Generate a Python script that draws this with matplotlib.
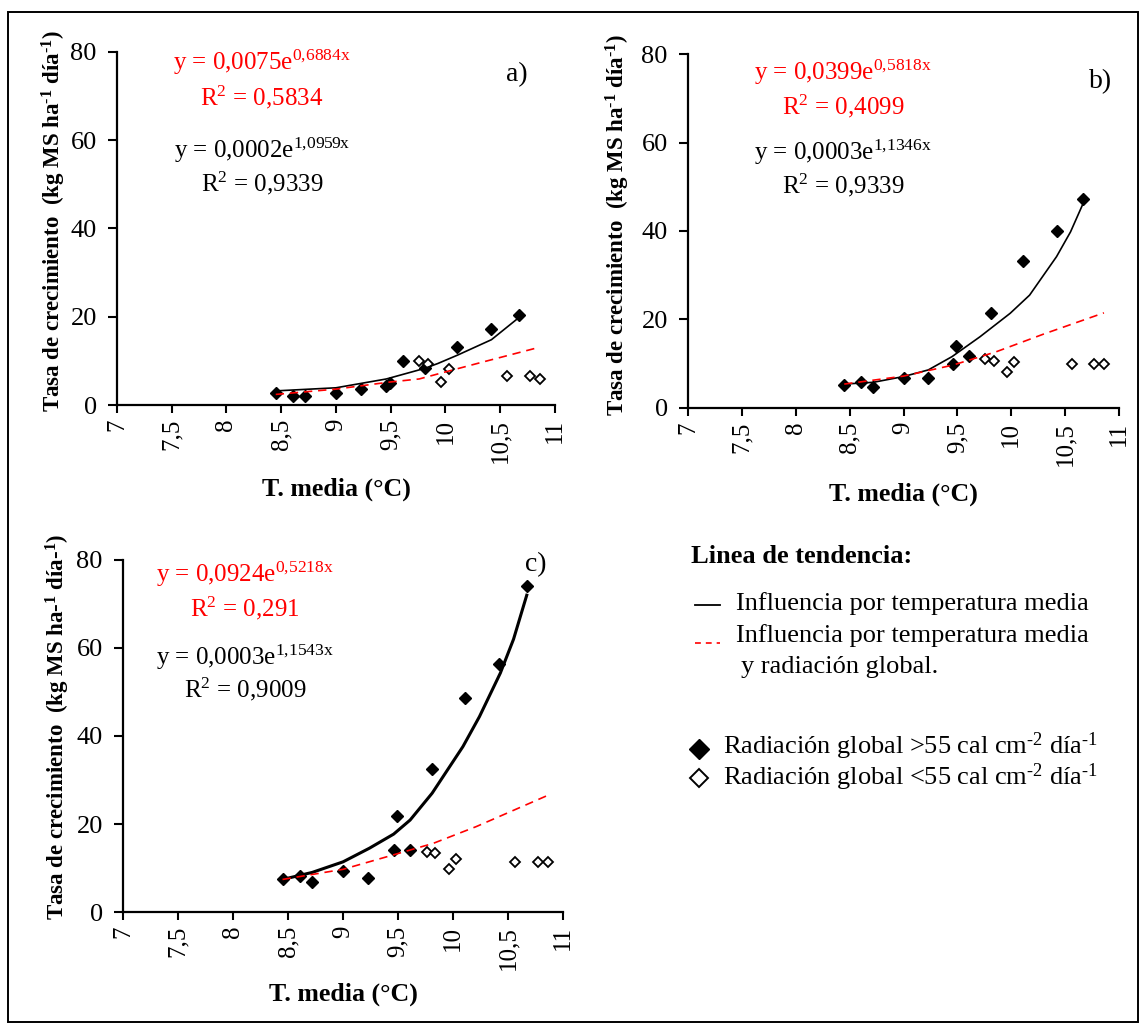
import matplotlib
matplotlib.use("Agg")
import matplotlib.pyplot as plt
from matplotlib.lines import Line2D
from matplotlib.patches import Rectangle

plt.rcParams['font.family'] = ['Liberation Serif', 'DejaVu Serif']
plt.rcParams['mathtext.fontset'] = 'custom'
plt.rcParams['mathtext.rm'] = 'Liberation Serif'
plt.rcParams['mathtext.it'] = 'Liberation Serif:italic'
plt.rcParams['mathtext.bf'] = 'Liberation Serif:bold'

# mean temperature of each period (same for the three panels)
x_high = [8.45, 8.61, 8.72, 9.00, 9.23, 9.46, 9.49, 9.61, 9.81, 10.11, 10.42, 10.67]
x_low = [9.76, 9.84, 9.96, 10.03, 10.56, 10.77, 10.86]

# growth rate, radiation > 55 (filled) and < 55 (empty)
a_high = [2.7, 2.0, 2.0, 2.8, 3.6, 4.2, 5.0, 10.0, 8.3, 13.1, 17.2, 20.4]
a_low = [10.0, 9.2, 5.3, 8.2, 6.6, 6.6, 5.8]
b_high = [5.2, 5.8, 4.8, 6.7, 6.7, 9.9, 14.0, 11.8, 21.5, 33.2, 40.0, 47.2]
b_low = [11.1, 10.6, 8.2, 10.5, 9.9, 9.9, 9.9]
c_high = [7.4, 8.2, 6.9, 9.3, 7.8, 14.2, 21.8, 14.2, 32.4, 48.7, 56.4, 74.0]
c_low = [13.6, 13.3, 9.8, 12.0, 11.3, 11.3, 11.3]

# trend lines
a_temp_x = [8.45, 9.0, 9.46, 9.81, 9.93, 10.11, 10.42, 10.67]
a_temp_y = [3.2, 3.9, 5.9, 8.3, 9.4, 11.3, 14.8, 19.8]
a_rad_x = [8.45, 9.0, 9.49, 9.76, 10.0, 10.35, 10.86]
a_rad_y = [2.4, 3.6, 5.2, 5.9, 7.5, 9.8, 13.1]
b_temp_x = [8.45, 8.72, 9.0, 9.23, 9.45, 9.71, 9.99, 10.17, 10.42, 10.55, 10.67]
b_temp_y = [5.4, 5.8, 7.1, 8.6, 11.6, 16.1, 21.4, 25.5, 34.2, 39.8, 46.4]
b_rad_x = [8.45, 9.0, 9.46, 9.86, 10.30, 10.86]
b_rad_y = [5.4, 7.2, 9.7, 12.7, 16.7, 21.5]
c_temp_x = [8.45, 8.72, 9.0, 9.24, 9.46, 9.61, 9.81, 10.09, 10.24, 10.43, 10.55, 10.67]
c_temp_y = [7.4, 9.0, 11.4, 14.5, 17.7, 20.9, 27.0, 37.6, 44.4, 54.3, 62.0, 72.0]
c_rad_x = [8.45, 9.0, 9.46, 9.82, 10.21, 10.86]
c_rad_y = [7.4, 9.7, 13.0, 15.6, 19.4, 26.5]

x_ticks = [7, 7.5, 8, 8.5, 9, 9.5, 10, 10.5, 11]
x_ticklabels = ['7', '7,5', '8', '8,5', '9', '9,5', '10', '10,5', '11']
y_ticks = [0, 20, 40, 60, 80]

HY = '\u2010'  # plain hyphen inside the superscripts

eq_red = {'a': (r'y = 0,0075e$^{\mathregular{0{,}6884x}}$', r'R$^{\mathregular{2}}$ = 0,5834'),
          'b': (r'y = 0,0399e$^{\mathregular{0{,}5818x}}$', r'R$^{\mathregular{2}}$ = 0,4099'),
          'c': (r'y = 0,0924e$^{\mathregular{0{,}5218x}}$', r'R$^{\mathregular{2}}$ = 0,291')}
eq_black = {'a': (r'y = 0,0002e$^{\mathregular{1{,}0959x}}$', r'R$^{\mathregular{2}}$ = 0,9339'),
            'b': (r'y = 0,0003e$^{\mathregular{1{,}1346x}}$', r'R$^{\mathregular{2}}$ = 0,9339'),
            'c': (r'y = 0,0003e$^{\mathregular{1{,}1543x}}$', r'R$^{\mathregular{2}}$ = 0,9009')}

ylab_std = 'Tasa de crecimiento  (kg MS ha$^{\\mathbf{' + HY + '1}}$ día$^{\\mathbf{' + HY + '1}}$)'
ylab_c = 'Tasa de crecimiento  (kg MS ha-$^{\\mathbf{1}}$ día-$^{\\mathbf{1}}$)'

fig = plt.figure(figsize=(11.4, 10.23), dpi=100)

panels = [
    # key, rect, high, low, temp line, rad line, black lw, ylabel, layout
    ('a', [0.1026, 0.6041, 0.3842, 0.3451], a_high, a_low, (a_temp_x, a_temp_y),
     (a_rad_x, a_rad_y), 1.2, ylab_std,
     dict(ylab=(-0.112, 0.52), xlab=-0.205, eqx=0.331, eqy=(0.972, 0.873, 0.722, 0.629), letter=(0.913, 0.935))),
    ('b', [0.6035, 0.6012, 0.3781, 0.3460], b_high, b_low, (b_temp_x, b_temp_y),
     (b_rad_x, b_rad_y), 1.2, ylab_std,
     dict(ylab=(-0.13, 0.517), xlab=-0.21, eqx=0.36, eqy=(0.949, 0.853, 0.723, 0.63), letter=(0.956, 0.921))),
    ('c', [0.1079, 0.1085, 0.3860, 0.3441], c_high, c_low, (c_temp_x, c_temp_y),
     (c_rad_x, c_rad_y), 2.2, ylab_c,
     dict(ylab=(-0.116, 0.525), xlab=-0.2, eqx=0.277, eqy=(0.96, 0.864, 0.724, 0.634), letter=(0.939, 0.986))),
]

for key, rect, hi, lo, tline, rline, blw, ylab, lay in panels:
    ax = fig.add_axes(rect)
    ax.plot(x_high, hi, linestyle='none', marker='D', ms=6.3, color='black', zorder=2)
    ax.plot(x_low, lo, linestyle='none', marker='D', ms=4.6, mfc='white', mec='black', mew=1.3, zorder=2)
    ax.plot(tline[0], tline[1], color='black', lw=blw, zorder=3)
    ax.plot(rline[0], rline[1], color='red', lw=1.2, dashes=(5, 3.5), zorder=3)

    ax.set_xlim(7, 11)
    ax.set_ylim(0, 80)
    ax.set_xticks(x_ticks)
    ax.set_xticklabels(x_ticklabels, rotation=90, fontsize=18)
    ax.set_yticks(y_ticks)
    ax.tick_params(axis='y', labelsize=19, length=6.5, width=1.5, pad=8, direction='out')
    ax.tick_params(axis='x', length=6, width=1.5, pad=4, direction='out')
    for s in ['top', 'right']:
        ax.spines[s].set_visible(False)
    for s in ['left', 'bottom']:
        ax.spines[s].set_linewidth(1.6)
    ax.patch.set_alpha(0)

    ax.set_ylabel(ylab, fontsize=16.5, fontweight='bold')
    ax.yaxis.set_label_coords(*lay['ylab'])
    ax.set_xlabel('T. media (°C)', fontsize=18.6, fontweight='bold')
    ax.xaxis.set_label_coords(0.5, lay['xlab'])

    y1, y2, y3, y4 = lay['eqy']
    ax.text(lay['eqx'], y1, eq_red[key][0], transform=ax.transAxes, color='red',
            fontsize=18, ha='center', va='center')
    ax.text(lay['eqx'], y2, eq_red[key][1], transform=ax.transAxes, color='red',
            fontsize=18, ha='center', va='center')
    ax.text(lay['eqx'], y3, eq_black[key][0], transform=ax.transAxes, color='black',
            fontsize=18, ha='center', va='center')
    ax.text(lay['eqx'], y4, eq_black[key][1], transform=ax.transAxes, color='black',
            fontsize=18, ha='center', va='center')
    ax.text(lay['letter'][0], lay['letter'][1], key + ')', transform=ax.transAxes,
            fontsize=20, ha='center', va='center')

# overlay in pixel units for the legend block and the outer frame
ov = fig.add_axes([0, 0, 1, 1], zorder=5)
ov.set_xlim(0, 1140)
ov.set_ylim(1023, 0)
ov.axis('off')

ov.add_patch(Rectangle((8, 12), 1130, 1010, fill=False, lw=1.4, ec='black'))

ov.text(691, 563, 'Linea de tendencia:', fontsize=19, fontweight='bold', va='baseline')
ov.add_line(Line2D([695, 720], [605, 605], color='black', lw=1.3))
ov.text(736, 604, 'Influencia por temperatura media', fontsize=19, va='center')
ov.add_line(Line2D([695, 720], [643, 643], color='red', lw=1.2, dashes=(3.5, 3)))
ov.text(736, 636, 'Influencia por temperatura media', fontsize=19, va='center')
ov.text(741, 667, 'y radiación global.', fontsize=19, va='center')

ov.plot([699], [749], linestyle='none', marker='D', ms=10, color='black')
ov.text(723, 746, 'Radiación global >55 cal cm$^{\\mathregular{' + HY + '2}}$ día$^{\\mathregular{' + HY + '1}}$',
        fontsize=19, va='center')
ov.plot([699], [778], linestyle='none', marker='D', ms=9.5, mfc='white', mec='black', mew=1.4)
ov.text(723, 777, 'Radiación global <55 cal cm$^{\\mathregular{' + HY + '2}}$ día$^{\\mathregular{' + HY + '1}}$',
        fontsize=19, va='center')

fig.savefig('out.png', dpi=100)
